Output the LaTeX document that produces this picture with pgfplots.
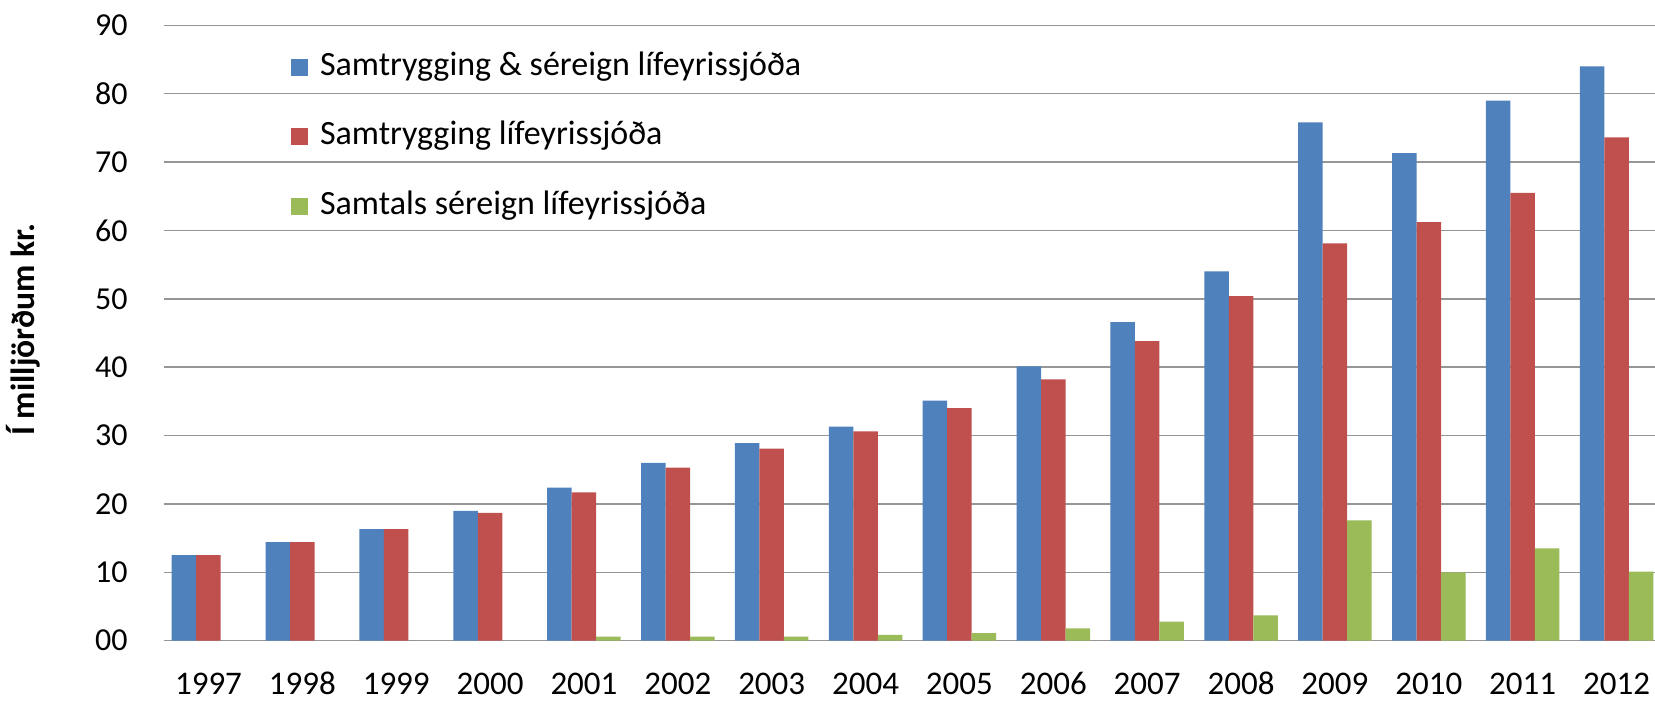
\documentclass[border=0pt]{standalone}
\usepackage{pgfplots}
\pgfplotsset{compat=1.18}
\usepackage{fontspec}
\setmainfont{Carlito}
\definecolor{cblue}{HTML}{4F81BD}
\definecolor{cred}{HTML}{C0504D}
\definecolor{cgreen}{HTML}{9BBB59}
\definecolor{cgrid}{RGB}{150,150,150}
\begin{document}
\begin{tikzpicture}
\fill[white] (-82pt,-30.15pt) rectangle (745.5pt,320.35pt);
\begin{axis}[
  at={(0,0)}, anchor=south west,
  scale only axis, width=745.5pt, height=307.7pt,
  ybar=0pt, bar width=12.25pt,
  xmin=-0.474, xmax=15.41, ymin=0, ymax=90,
  xtick={0,...,15},
  xticklabels={1997,1998,1999,2000,2001,2002,2003,2004,2005,2006,2007,2008,2009,2010,2011,2012},
  ytick={0,10,...,90},
  yticklabels={00,10,20,30,40,50,60,70,80,90},
  xticklabel style={font=\fontsize{16.5}{20}\selectfont, anchor=base, text depth=0pt, inner sep=0pt, yshift=-27pt},
  yticklabel style={font=\fontsize{16}{19}\selectfont, anchor=east, inner sep=0pt, xshift=-18pt},
  axis line style={draw=none},
  major tick length=0pt, tick style={draw=none},
  ymajorgrids, grid style={cgrid, line width=0.75pt},
  ylabel={\bfseries Í milljörðum kr.},
  ylabel style={font=\fontsize{16.8}{19}\selectfont, at={(rel axis cs:0,0.5057)}, anchor=center, rotate=0, yshift=70.5pt},
  legend image code/.code={\fill[#1] (0pt,-4.25pt) rectangle (8.5pt,4.25pt);},
  legend cell align=left,
  legend style={draw=none, fill=none, inner sep=0pt, outer sep=0pt,
    at={(axis description cs:0.0852,0.958)}, anchor=north west,
    row sep=18.75pt, column sep=6pt,
    font=\fontsize{17}{20}\selectfont,
    nodes={inner sep=0pt, outer sep=0pt, text height=12pt, text depth=4pt}},
]
\addplot[fill=cblue, draw=none] coordinates {
(0,12.5) (1,14.4) (2,16.3) (3,19.0) (4,22.4) (5,26.0) (6,28.9) (7,31.3)
(8,35.1) (9,40.1) (10,46.6) (11,54.0) (12,75.8) (13,71.3) (14,79.0) (15,84.0)};
\addplot[fill=cred, draw=none] coordinates {
(0,12.5) (1,14.4) (2,16.3) (3,18.7) (4,21.7) (5,25.3) (6,28.1) (7,30.6)
(8,34.0) (9,38.2) (10,43.8) (11,50.4) (12,58.1) (13,61.2) (14,65.5) (15,73.6)};
\addplot[fill=cgreen, draw=none] coordinates {
(4,0.6) (5,0.6) (6,0.6) (7,0.85)
(8,1.1) (9,1.8) (10,2.8) (11,3.7) (12,17.6) (13,10.0) (14,13.5) (15,10.1)};
\legend{Samtrygging \& séreign lífeyrissjóða, Samtrygging lífeyrissjóða, Samtals séreign lífeyrissjóða}
\end{axis}
\pgfresetboundingbox
\useasboundingbox (-82pt,-30.15pt) rectangle (745.5pt,320.35pt);
\end{tikzpicture}
\end{document}
